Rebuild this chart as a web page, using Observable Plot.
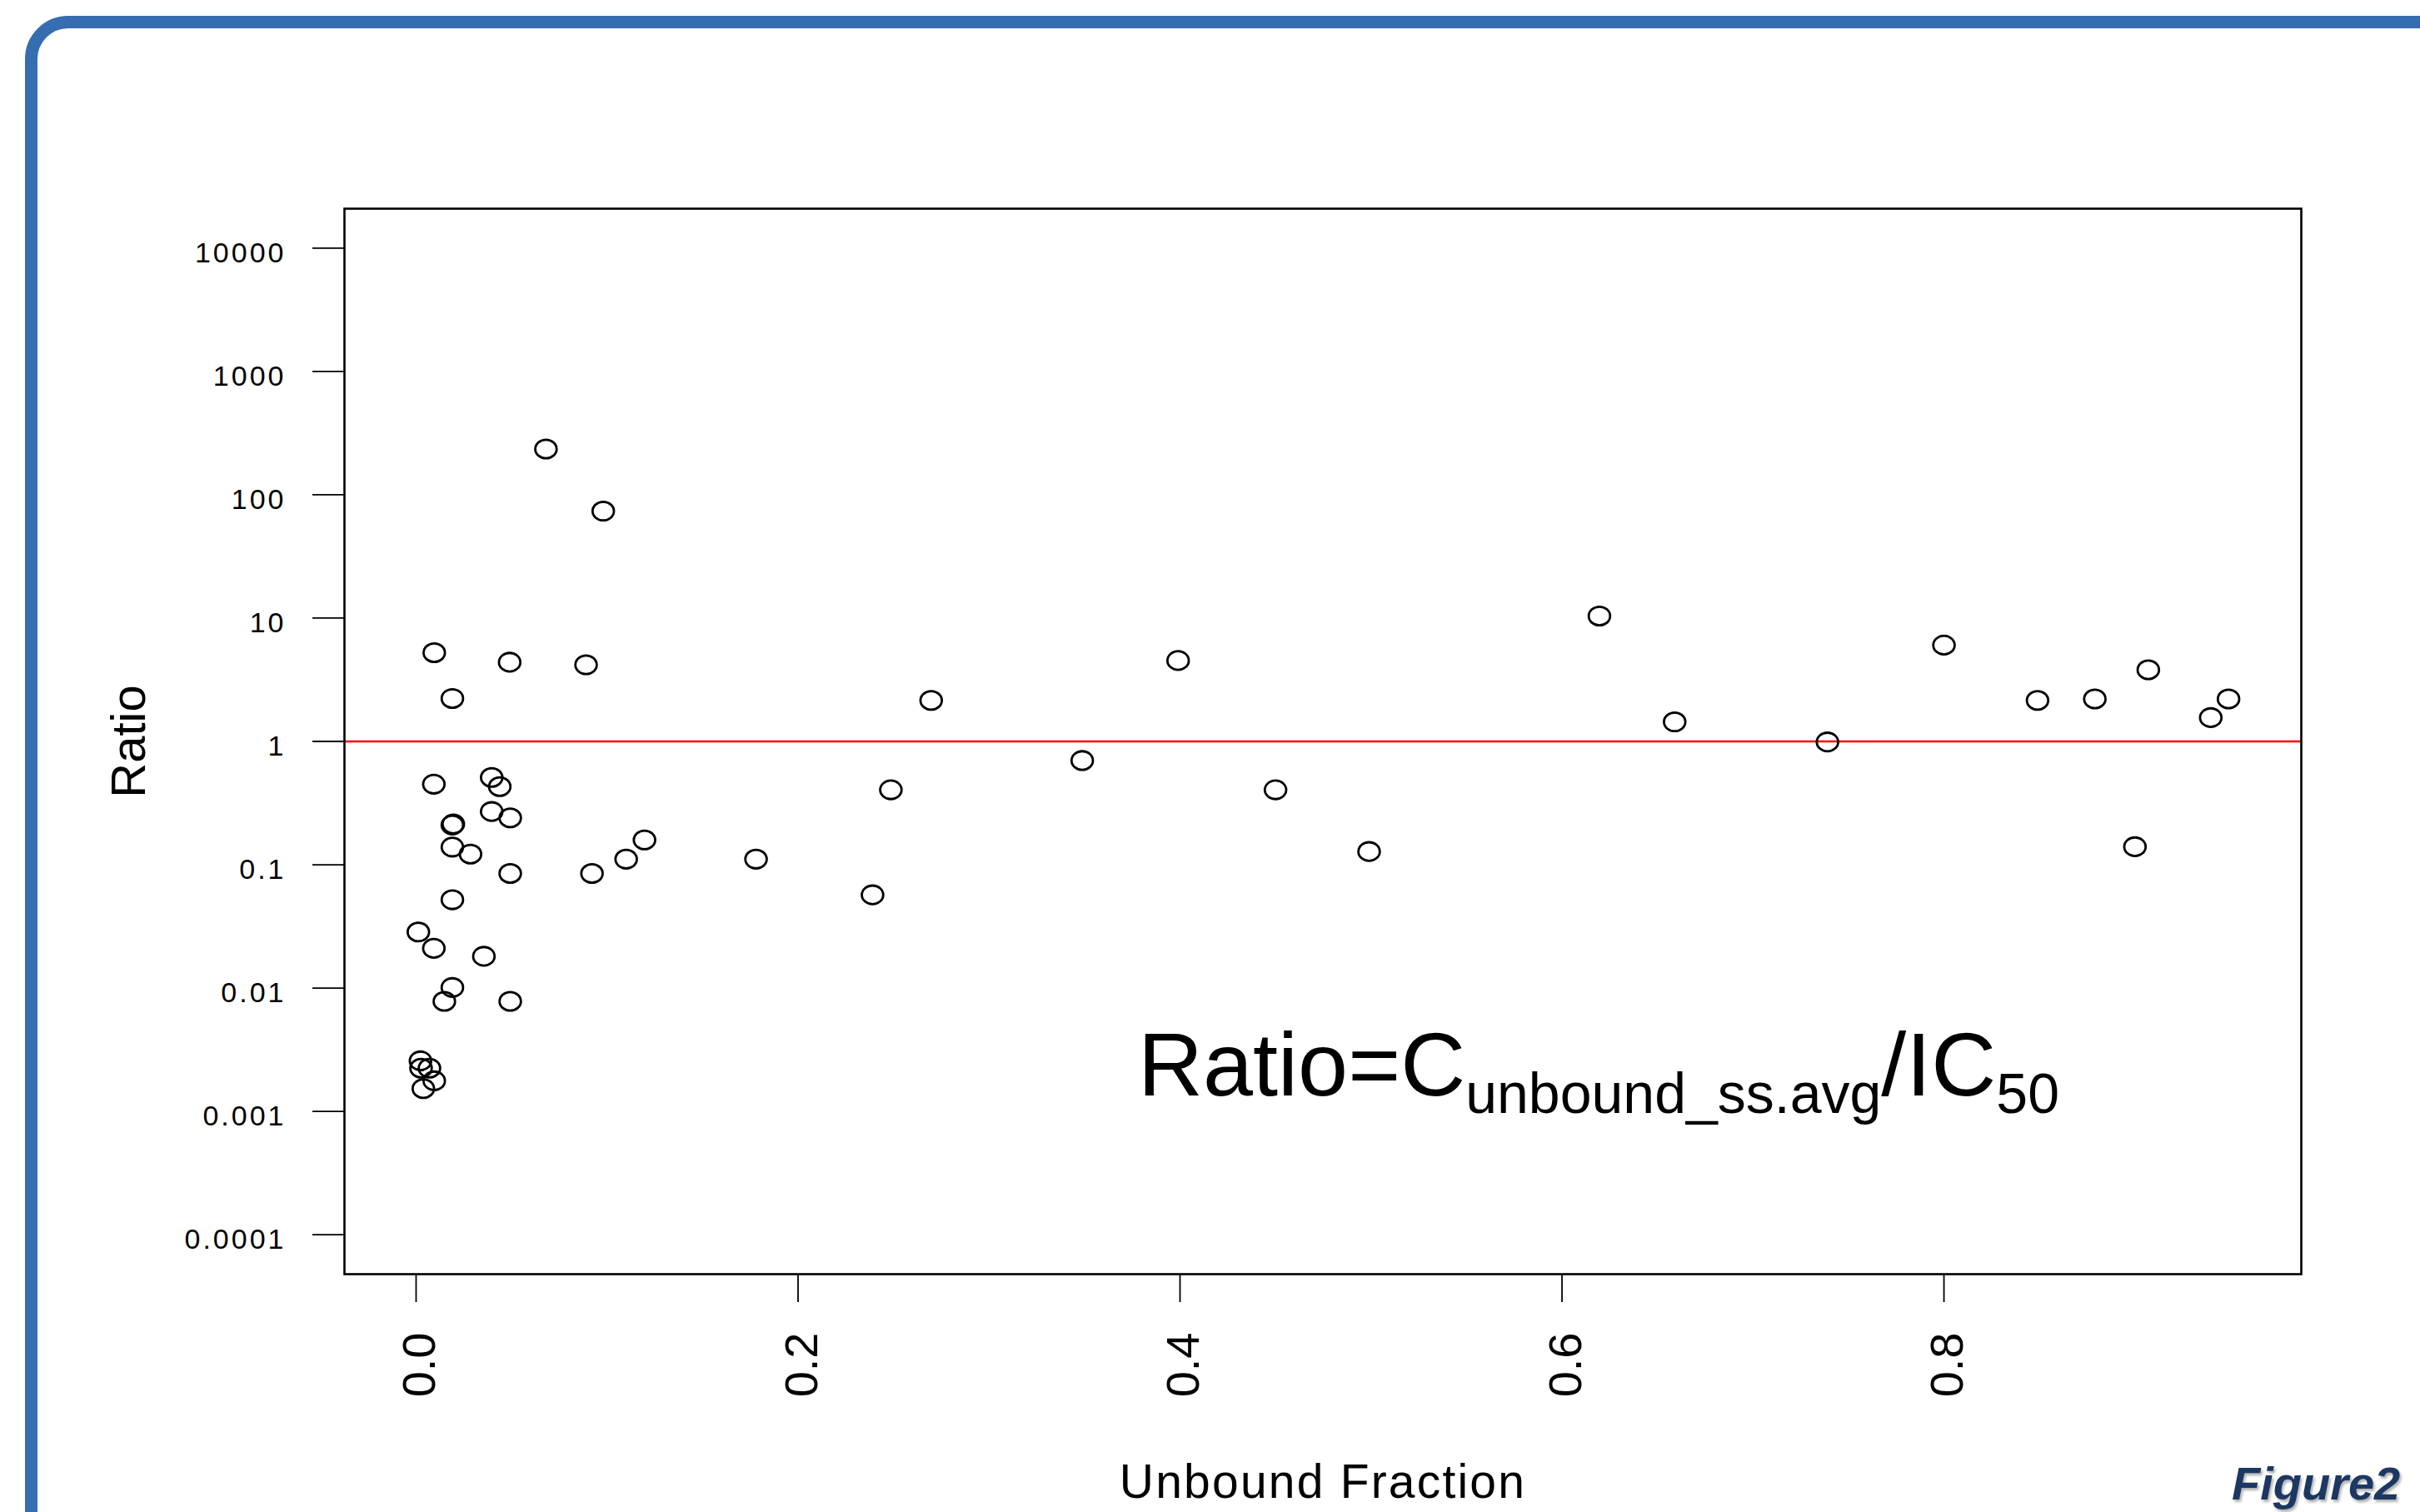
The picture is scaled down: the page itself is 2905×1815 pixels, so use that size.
<!DOCTYPE html>
<html>
<head>
<meta charset="utf-8">
<script src="https://cdn.jsdelivr.net/npm/d3@7"></script>
<script src="https://cdn.jsdelivr.net/npm/@observablehq/plot@0.6"></script>
<style>
  html, body { margin: 0; padding: 0; background: #fff; width: 2905px; height: 1815px; overflow: hidden; }
  #wrap { position: relative; width: 2905px; height: 1815px; overflow: hidden; }
  #chart { position: absolute; left: 0; top: 0; }
  #border { position: absolute; left: 30px; top: 19px; width: 3300px; height: 2300px;
            border: 15.7px solid #366db0; border-radius: 52px; box-sizing: border-box; pointer-events: none; }
</style>
</head>
<body>
<div id="wrap"><div id="chart"></div><div id="border"></div></div>
<script>
// ---- data ----
const unboundFraction = [
  0.0095, 0.049, 0.089, 0.019, 0.068, 0.098,
  0.0093, 0.0396, 0.0438, 0.0396, 0.0493, 0.019, 0.0195, 0.019, 0.0285, 0.0493,
  0.0921, 0.11, 0.1196, 0.019, 0.0012, 0.0093, 0.0355, 0.019, 0.0148, 0.0493,
  0.0023, 0.0026, 0.007, 0.0095, 0.0038,
  0.178, 0.239, 0.2486, 0.2697, 0.3488, 0.399, 0.45, 0.499, 0.6196, 0.659,
  0.739, 0.80, 0.849, 0.879, 0.90, 0.907, 0.9397, 0.949
];
const ratio = [
  5.24, 4.39, 4.18, 2.23, 235, 73.7,
  0.45, 0.51, 0.43, 0.27, 0.24, 0.21, 0.214, 0.139, 0.122, 0.085,
  0.085, 0.111, 0.159, 0.052, 0.0285, 0.021, 0.0181, 0.0101, 0.0078, 0.0078,
  0.00257, 0.00224, 0.00224, 0.00177, 0.00153,
  0.111, 0.057, 0.405, 2.15, 0.70, 4.53, 0.405, 0.128, 10.4, 1.44,
  0.99, 6.04, 2.15, 2.21, 0.14, 3.81, 1.56, 2.21
];
const yTicks = [1e-4, 1e-3, 1e-2, 1e-1, 1, 10, 100, 1000, 10000];
const yTickLabels = ["0.0001", "0.001", "0.01", "0.1", "1", "10", "100", "1000", "10000"];
const xTicks = [0, 0.2, 0.4, 0.6, 0.8];
const xTickLabels = ["0.0", "0.2", "0.4", "0.6", "0.8"];
const referenceRatio = [1];
const xTitle = "Unbound Fraction";
const yTitle = "Ratio";
const annotation = {x: 0.3782, y: 0.001336};
const figureLabel = "Figure2";

// ---- chart ----
const data = unboundFraction.map((x, i) => ({x, y: ratio[i]}));

// slightly wide open ellipse, like the reference's stretched circles
const ellipse = {
  draw(context, size) {
    const r = Math.sqrt(size / Math.PI);
    const rx = r * 1.07, ry = r * 0.93, k = 0.5523;
    context.moveTo(rx, 0);
    context.bezierCurveTo(rx, ry * k, rx * k, ry, 0, ry);
    context.bezierCurveTo(-rx * k, ry, -rx, ry * k, -rx, 0);
    context.bezierCurveTo(-rx, -ry * k, -rx * k, -ry, 0, -ry);
    context.bezierCurveTo(rx * k, -ry, rx, -ry * k, rx, 0);
    context.closePath();
  }
};

const font = '"Liberation Sans", Arial, Helvetica, sans-serif';

const plot = Plot.plot({
  width: 2905,
  height: 1815,
  marginLeft: 413,
  marginRight: 143,
  marginTop: 250,
  marginBottom: 286,
  style: {fontFamily: font, background: "transparent", color: "black"},
  x: {domain: [-0.0375, 0.9871]},
  y: {type: "log", domain: [Math.pow(10, -4.32), Math.pow(10, 4.32)]},
  marks: [
    Plot.ruleY(referenceRatio, {stroke: "#ff0000", strokeWidth: 2.5}),
    Plot.dot(data, {x: "x", y: "y", r: 12, symbol: ellipse, stroke: "black", strokeWidth: 2.8, fill: "none"}),
    Plot.frame({stroke: "black", strokeWidth: 2.6}),
    Plot.axisY(yTicks, {tickSize: 38, tickFormat: () => "", strokeWidth: 1.8, label: null}),
    Plot.axisY(yTicks, {tickSize: 0, tickPadding: 70, tickFormat: d => yTickLabels[yTicks.indexOf(d)], fontSize: 34, dy: 6, label: null}),
    Plot.axisX(xTicks, {tickSize: 34, tickFormat: () => "", strokeWidth: 1.8, label: null}),
    Plot.axisX(xTicks, {tickSize: 0, tickPadding: 70, tickRotate: -90, tickFormat: d => xTickLabels[xTicks.indexOf(d)], fontSize: 56, dx: 5, label: null}),
    Plot.text([xTitle], {frameAnchor: "bottom", dy: 268, lineAnchor: "bottom", textAnchor: "middle", fontSize: 57}),
    Plot.text([yTitle], {frameAnchor: "left", dx: -258, rotate: -90, textAnchor: "middle", lineAnchor: "middle", fontSize: 58})
  ]
});

document.getElementById("chart").appendChild(plot);

const svg = d3.select(plot);
svg.selectAll('g[aria-label="y-axis tick label"] text').attr("letter-spacing", 3);
svg.selectAll("text").filter(function () { return this.textContent === xTitle; }).attr("letter-spacing", 2.2);

// formula annotation with subscripts
const sx = plot.scale("x"), sy = plot.scale("y");
const t = svg.append("text")
  .attr("x", sx.apply(annotation.x))
  .attr("y", sy.apply(annotation.y))
  .attr("text-anchor", "start")
  .attr("font-size", 108)
  .attr("fill", "black")
  .attr("font-family", font);
t.append("tspan").text("Ratio=C");
t.append("tspan").attr("font-size", 68).attr("dy", 21).text("unbound_ss.avg");
t.append("tspan").attr("font-size", 108).attr("dy", -21).text("/IC");
t.append("tspan").attr("font-size", 68).attr("dy", 21).text("50");

// "Figure2" label with soft shadow
const defs = svg.append("defs");
const f = defs.append("filter").attr("id", "figshadow").attr("x", "-10%").attr("y", "-20%").attr("width", "130%").attr("height", "160%");
f.append("feDropShadow").attr("dx", 2).attr("dy", 3).attr("stdDeviation", 1.5).attr("flood-color", "#000").attr("flood-opacity", 0.3);
svg.append("text")
  .attr("x", 2679)
  .attr("y", 1800)
  .attr("text-anchor", "start")
  .attr("font-size", 56)
  .attr("font-weight", "bold")
  .attr("font-style", "italic")
  .attr("font-family", font)
  .attr("fill", "#1c3962")
  .attr("filter", "url(#figshadow)")
  .text(figureLabel);
</script>
</body>
</html>
